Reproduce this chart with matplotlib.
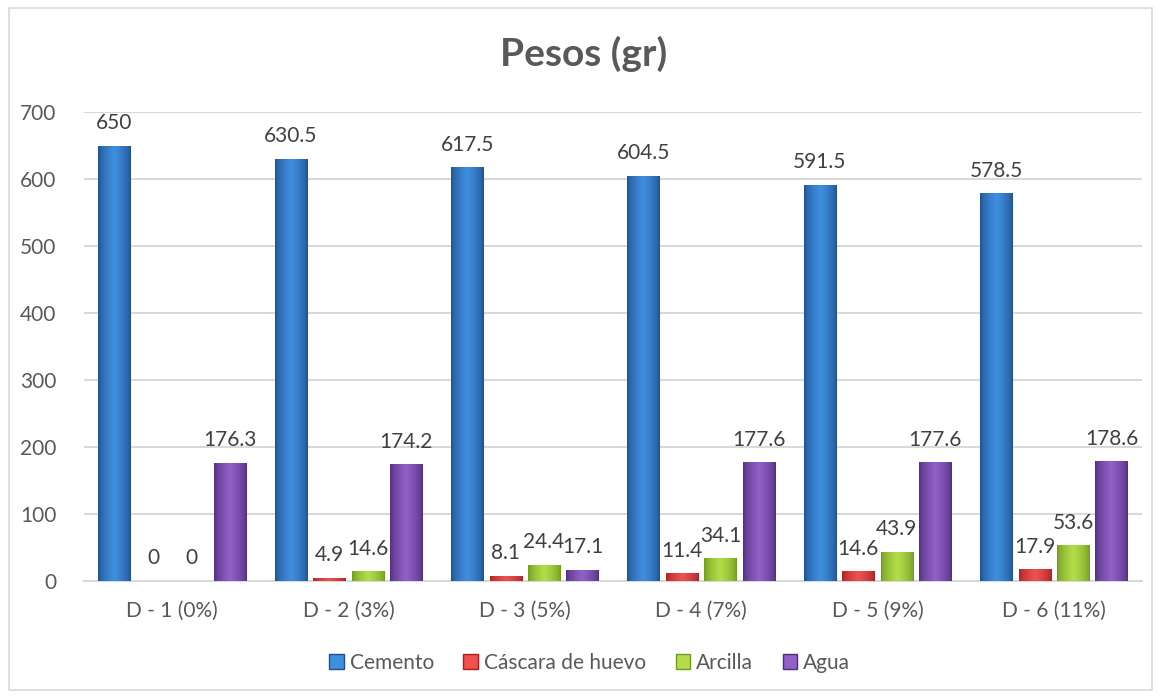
import numpy as np
import matplotlib.pyplot as plt
from matplotlib.patches import Rectangle
from matplotlib.colors import LinearSegmentedColormap

plt.rcParams['font.family'] = ['Lato', 'DejaVu Sans']

categorias = ['D - 1 (0%)', 'D - 2 (3%)', 'D - 3 (5%)', 'D - 4 (7%)', 'D - 5 (9%)', 'D - 6 (11%)']
series = ['Cemento', 'Cáscara de huevo', 'Arcilla', 'Agua']
cemento = [650, 630.5, 617.5, 604.5, 591.5, 578.5]
cascara = [0, 4.9, 8.1, 11.4, 14.6, 17.9]
arcilla = [0, 14.6, 24.4, 34.1, 43.9, 53.6]
agua = [176.3, 174.2, 17.1, 177.6, 177.6, 178.6]
etiquetas = [['650', '630.5', '617.5', '604.5', '591.5', '578.5'],
             ['0', '4.9', '8.1', '11.4', '14.6', '17.9'],
             ['0', '14.6', '24.4', '34.1', '43.9', '53.6'],
             ['176.3', '174.2', '17.1', '177.6', '177.6', '178.6']]

# (oscuro, claro) para simular el relieve de Excel
colores = [('#1F4E8C', '#3F8FE0'),
           ('#A82020', '#F05050'),
           ('#6E9A1E', '#B4DC4A'),
           ('#4E2C7A', '#9260C8')]

fig = plt.figure(figsize=(11.61, 6.97), dpi=100)
fig.patches.append(Rectangle((0.008, 0.01), 0.984, 0.978, transform=fig.transFigure,
                             fill=False, edgecolor='#D9D9D9', linewidth=1.2))
ax = fig.add_axes([84 / 1161, 1 - 581 / 697, 1058 / 1161, (581 - 112) / 697])

x = np.arange(len(categorias))
paso = 0.218
ancho = 0.182
datos = [cemento, cascara, arcilla, agua]

grad = np.concatenate([np.linspace(0, 1, 50), np.linspace(1, 0, 50)])
grad = (grad ** 0.6).reshape(1, -1)

for i, vals in enumerate(datos):
    pos = x + (i - 1.5) * paso
    bars = ax.bar(pos, vals, width=ancho, color=colores[i][0], zorder=2, label=series[i])
    cmap = LinearSegmentedColormap.from_list('c%d' % i, [colores[i][0], colores[i][1]])
    for b in bars:
        if b.get_height() <= 0:
            continue
        im = ax.imshow(grad, cmap=cmap, aspect='auto', zorder=3,
                       extent=(b.get_x(), b.get_x() + b.get_width(), 0, b.get_height()))
        im.set_clip_path(b)
    ax.bar_label(bars, labels=etiquetas[i], padding=9, fontsize=15, color='#404040', zorder=4)

ax.set_xlim(-0.5, 5.5)
ax.set_ylim(0, 700)
ax.set_yticks(range(0, 701, 100))
ax.set_xticks(x)
ax.set_xticklabels(categorias)
ax.tick_params(axis='both', length=0, labelsize=15, labelcolor='#595959')
ax.tick_params(axis='x', pad=14)
ax.tick_params(axis='y', pad=20)
ax.yaxis.grid(True, color='#D9D9D9', linewidth=1.5, zorder=0)
ax.set_axisbelow(True)
for s in ['top', 'right', 'left']:
    ax.spines[s].set_visible(False)
ax.spines['bottom'].set_color('#D9D9D9')
ax.spines['bottom'].set_linewidth(1.5)

fig.text(0.503, 0.922, 'Pesos (gr)', ha='center', va='center', fontsize=28,
         fontweight='bold', color='#595959')

handles = [Rectangle((0, 0), 1, 1, color=c[1], ec=c[0]) for c in colores]
fig.legend(handles, series, loc='center', bbox_to_anchor=(0.508, 0.049), ncol=4,
           frameon=False, fontsize=15, handlelength=0.7, handleheight=0.7,
           handletextpad=0.3, columnspacing=1.4, labelcolor='#595959')

fig.savefig('out.png', dpi=100)
